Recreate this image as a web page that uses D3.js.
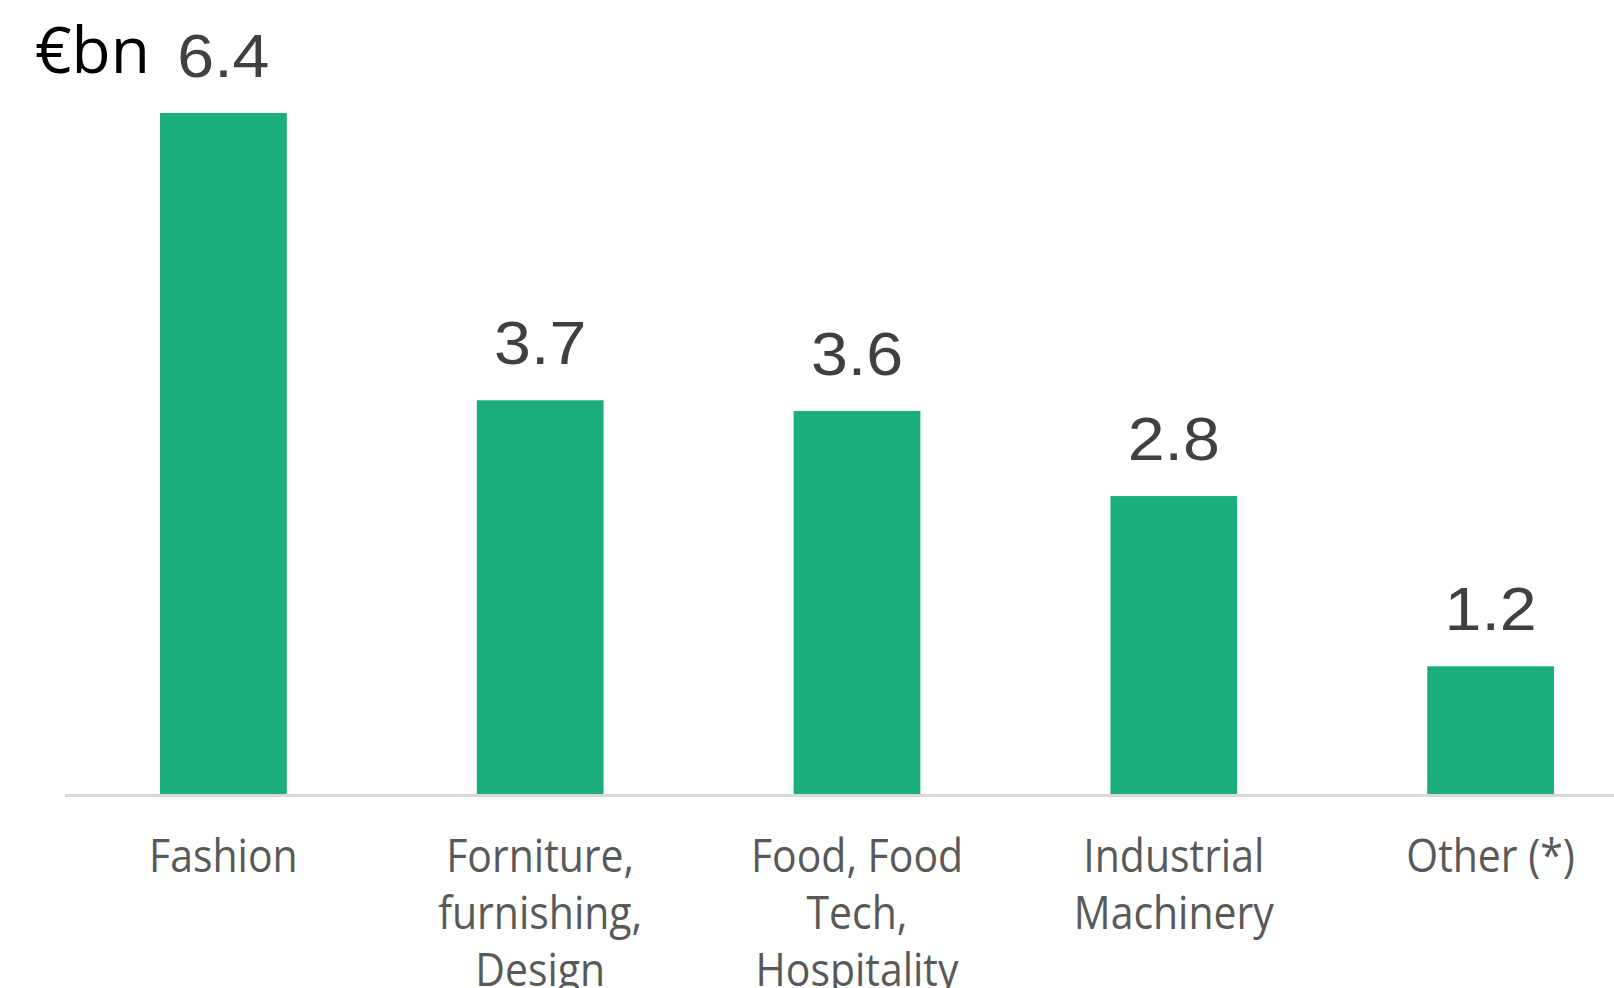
<!DOCTYPE html>
<html>
<head>
<meta charset="utf-8">
<script src="https://cdn.jsdelivr.net/npm/d3@7.9.0/dist/d3.min.js"></script>
<style>
  body { margin: 0; background: #fff; }
  svg { display: block; }
</style>
</head>
<body>
<svg id="chart" width="1614" height="988"></svg>
<script>
// data
const categories = ['Fashion', 'Forniture, furnishing, Design', 'Food, Food Tech, Hospitality', 'Industrial Machinery', 'Other (*)'];
const labelLines = [['Fashion'], ['Forniture,', 'furnishing,', 'Design'], ['Food, Food', 'Tech,', 'Hospitality'], ['Industrial', 'Machinery'], ['Other (*)']];
const values = [6.4, 3.7, 3.6, 2.8, 1.2];
const unitLabel = '€bn';

const svg = d3.select('#chart');

const x = d3.scaleBand()
  .domain(categories)
  .range([65, 1649])
  .paddingInner(0.6)
  .paddingOuter(0.3);

const y = d3.scaleLinear()
  .domain([0, 6.4])
  .range([794, 113]);

// bars
svg.append('g')
  .selectAll('rect')
  .data(values)
  .join('rect')
  .attr('x', (d, i) => x(categories[i]))
  .attr('y', d => y(d))
  .attr('width', x.bandwidth())
  .attr('height', d => y(0) - y(d))
  .attr('fill', '#1bad7c');

// baseline axis
svg.append('line')
  .attr('x1', 65).attr('x2', 1614)
  .attr('y1', y(0) + 1.5).attr('y2', y(0) + 1.5)
  .attr('stroke', '#d9d9d9')
  .attr('stroke-width', 3);

// value labels
svg.append('g')
  .selectAll('text')
  .data(values)
  .join('text')
  .attr('x', (d, i) => x(categories[i]) + x.bandwidth() / 2)
  .attr('y', d => y(d) - 36)
  .attr('text-anchor', 'middle')
  .attr('font-family', 'Liberation Sans, Arial, sans-serif')
  .attr('font-size', 62)
  .attr('fill', '#404040')
  .attr('transform', (d, i) => {
    const cx = x(categories[i]) + x.bandwidth() / 2;
    return `translate(${cx},0) scale(1.07,1) translate(${-cx},0)`;
  })
  .text(d => d.toFixed(1));

// category labels (narrowed to mimic a condensed face)
const cat = svg.append('g')
  .selectAll('g')
  .data(labelLines)
  .join('g')
  .attr('transform', (d, i) => `translate(${x(categories[i]) + x.bandwidth() / 2},872) scale(0.91,1)`);

cat.selectAll('text')
  .data(d => d)
  .join('text')
  .attr('y', (d, j) => j * 57)
  .attr('text-anchor', 'middle')
  .attr('font-family', 'Open Sans, sans-serif')
  .attr('font-size', 45)
  .attr('fill', '#595959')
  .text(d => d);

// unit label
svg.append('text')
  .attr('x', 35)
  .attr('y', 73)
  .attr('font-family', 'Open Sans, sans-serif')
  .attr('font-size', 64)
  .attr('fill', '#000')
  .text(unitLabel);
</script>
</body>
</html>
